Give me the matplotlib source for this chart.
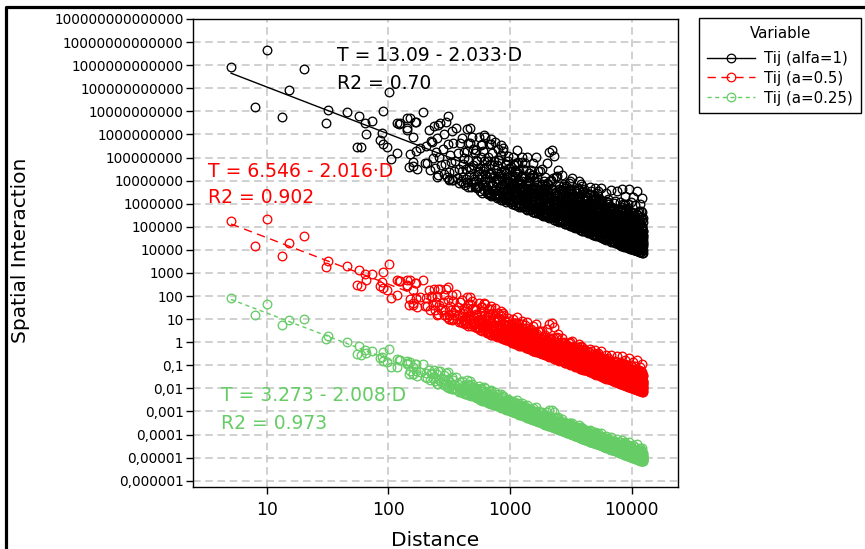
import numpy as np
import matplotlib
matplotlib.use("Agg")
import matplotlib.pyplot as plt
from matplotlib.lines import Line2D

# distance between each pair (km)
distance = [
    5.1, 10, 20.4, 15.2, 8, 13.3, 32, 31, 46, 57,
    64, 73, 101, 90, 66, 55, 60, 88, 85, 91,
    98, 117, 123, 141, 150, 170, 194, 118, 106, 151,
    124, 142, 165, 143, 159, 182, 149, 200, 251, 228,
    256, 309, 160, 168, 158, 172,
    # 200 - 520
    203, 209, 214, 219, 226, 231, 238, 241, 247, 252,
    258, 263, 267, 272, 279, 284, 288, 293, 297, 304,
    308, 313, 317, 322, 326, 333, 338, 342, 349, 355,
    361, 366, 372, 378, 383, 389, 394, 401, 407, 414,
    421, 428, 433, 440, 446, 453, 459, 466, 474, 481,
    487, 494, 499, 506, 511, 517, 318, 336, 452, 470,
    # 520 - 1000
    523, 528, 534, 539, 545, 551, 556, 562, 568, 573,
    579, 585, 590, 597, 603, 609, 614, 621, 627, 633,
    639, 646, 652, 658, 665, 671, 678, 684, 691, 698,
    704, 711, 718, 725, 732, 739, 746, 753, 760, 767,
    774, 781, 789, 796, 804, 811, 819, 827, 834, 842,
    850, 858, 866, 874, 882, 890, 899, 907, 915, 924,
    932, 941, 950, 958, 967, 976, 985, 994, 588, 655,
    701, 742, 785, 829, 872, 918, 960, 613, 694, 845,
    405, 418, 431, 447, 462, 478, 493, 509, 526, 541,
    558, 574, 592, 608, 626, 643, 661, 679, 697, 716,
    735, 754, 773, 793, 813, 834, 855, 876, 898, 920,
    943, 966, 989, 412, 538, 667, 781, 893, 455, 622,
    # 1000 - 3000
    1004, 1013, 1022, 1031, 1041, 1050, 1060, 1069, 1079, 1089,
    1099, 1109, 1119, 1130, 1140, 1151, 1161, 1172, 1183, 1194,
    1205, 1217, 1228, 1239, 1251, 1263, 1275, 1287, 1299, 1311,
    1323, 1336, 1348, 1361, 1374, 1387, 1400, 1413, 1426, 1440,
    1453, 1467, 1481, 1495, 1509, 1523, 1537, 1552, 1566, 1581,
    1596, 1611, 1626, 1641, 1657, 1672, 1688, 1704, 1720, 1736,
    1752, 1769, 1786, 1802, 1819, 1836, 1854, 1871, 1889, 1907,
    1925, 1943, 1961, 1980, 1998, 1035, 1112, 1196, 1282, 1370,
    1458, 1549, 1645, 1747, 1855, 1950, 1064, 1240, 1503, 1713,
    1150, 1330, 1420, 1590, 1780, 1900, 1260, 1480, 1680, 1870,
    1008, 1027, 1046, 1066, 1086, 1106, 1127, 1148, 1170, 1192,
    1214, 1237, 1260, 1284, 1308, 1333, 1358, 1384, 1410, 1436,
    1463, 1491, 1519, 1548, 1577, 1607, 1637, 1668, 1699, 1731,
    1764, 1797, 1831, 1865, 1900, 1936, 1972, 2009, 2047, 2086,
    2125, 2165, 2206, 2247, 2289, 2332, 2376, 2421, 2466, 2512,
    2560, 2608, 2657, 2707, 2757, 2809, 2862, 2916, 2970, 1118,
    1295, 1452, 1621, 1810, 2020, 2255, 2510, 2790, 1180, 1390,
    1560, 1745, 1950, 2180, 2430, 2700, 2950, 1075, 1665, 2345,
    2015, 2041, 2068, 2094, 2121, 2148, 2176, 2203, 2231, 2260,
    2289, 2318, 2347, 2377, 2407, 2438, 2469, 2500, 2532, 2564,
    2597, 2630, 2663, 2697, 2731, 2766, 2801, 2837, 2873, 2909,
    # 3000 - 6000
    2946, 2984, 3022, 3060, 3099, 3138, 3178, 3218, 3259, 3300,
    3342, 3385, 3428, 3471, 3515, 3560, 3605, 3651, 3697, 3744,
    3792, 3840, 3889, 3938, 3988, 4039, 4090, 4142, 4194, 4248,
    4301, 4356, 4411, 4467, 4524, 4581, 4639, 4698, 4758, 4818,
    4879, 4941, 4990, 2083, 2195, 2310, 2425, 2550, 2680, 2815,
    2960, 3110, 3270, 3430, 3600, 3780, 3960, 4150, 4350, 4560,
    4780, 4960, 2130, 2270, 2390, 2610, 2860, 3050, 3320, 3520,
    3700, 3910, 4080, 4290, 4480, 4710, 4910, 2240, 2480, 2720,
    3000, 3250, 3480, 3680, 3880, 4110, 4400, 4620, 4850, 2160,
    2360, 2590, 2780, 2990, 3190, 3400, 3620, 3850, 4060, 4260,
    4450, 4650, 4880, 2050, 2570, 3150, 3750, 4200, 4720, 4970,
    3015, 3058, 3102, 3147, 3192, 3238, 3285, 3332, 3380, 3429,
    3479, 3529, 3580, 3632, 3684, 3737, 3791, 3846, 3902, 3958,
    4015, 4073, 4132, 4192, 4252, 4314, 4376, 4439, 4503, 4568,
    4634, 4701, 4769, 4838, 4908, 4979, 5051, 5124, 5198, 5273,
    5349, 5426, 5504, 5584, 5665, 5746, 5829, 5913, 5999, 3110,
    3360, 3620, 3900, 4200, 4520, 4870, 5240, 5640, 3230, 3490,
    3760, 4050, 4360, 4690, 5050, 5430, 5850, 3070, 3310, 3570,
    3850, 4150, 4470, 4820, 5190, 5590, 5960, 3180, 3440, 3710,
    4000, 4310, 4650, 5010, 5400, 5800, 3280, 3660, 4090, 4560,
    5080, 5670, 3540, 3950, 4420, 4930, 5500, 5950, 3820, 4600,
    5030, 5085, 5140, 5196, 5252, 5309, 5366, 5424, 5482, 5541,
    5600, 5660, 5720, 5781, 5842, 5904, 5966, 6029, 6092, 6156,
    # 6000 - 12400
    6220, 6285, 6350, 6416, 6482, 6549, 6616, 6684, 6752, 6821,
    6890, 6960, 7030, 7101, 7172, 7244, 7316, 7389, 7462, 7536,
    7610, 7685, 7760, 7836, 7912, 7989, 5120, 5380, 5650, 5920,
    6200, 6480, 6770, 7060, 7350, 7650, 7940, 5260, 5530, 5810,
    6090, 6370, 6650, 6930, 7210, 7500, 7790, 5050, 5450, 5870,
    6300, 6720, 7150, 7580, 7960, 5700, 6150, 6600, 7000, 7450,
    8040, 8110, 8180, 8250, 8320, 8390, 8460, 8530, 8600, 8670,
    8740, 8810, 8880, 8950, 9020, 9090, 9160, 9230, 9300, 9370,
    9440, 9510, 9580, 9650, 9720, 9790, 9860, 9930, 10000, 10070,
    10140, 10210, 10280, 10350, 10420, 10490, 10560, 10630, 10700, 10770,
    10840, 10910, 10980, 11050, 11120, 11190, 11260, 11330, 11400, 11470,
    11540, 11610, 11680, 11750, 11820, 11890, 11960, 12030, 12100, 12170,
    12240, 12310, 12380, 8150, 8420, 8700, 8990, 9270, 9560, 9840,
    10120, 10400, 10680, 10960, 11240, 11520, 11800, 12080, 12350, 8280,
    8560, 8840, 9120, 9400, 9680, 9960, 10240, 10520, 10800, 11080,
    11360, 11640, 11920, 12200, 8060, 8480, 8920, 9340, 9760, 10180,
    10600, 11020, 11440, 11860, 12280, 8350, 8780, 9200, 9620, 10040,
    10460, 10880, 11300, 11720, 12140, 9050, 9900, 10750, 11580, 12400,
    6045, 6133, 6222, 6312, 6404, 6497, 6591, 6687, 6784, 6882,
    6982, 7083, 7186, 7290, 7396, 7503, 7612, 7722, 7834, 7948,
    8063, 8180, 8299, 8419, 8541, 8665, 8791, 8918, 9047, 9178,
    9311, 9446, 9583, 9722, 9863, 10006, 10151, 10298, 10448, 10599,
    10753, 10909, 11067, 11227, 11390, 11555, 11723, 11893, 12065, 12240,
    12320, 12390, 12150, 11980, 11810, 11650, 11480, 11310, 11150, 10990,
    10830, 10670, 10520, 10360, 10210, 10060, 9910, 9770, 9630, 9490,
    9350, 9210, 9080, 8950, 8820, 8690, 8570, 8440, 8320, 8200,
    8090, 7970, 7860, 7750, 7640, 7530, 7420, 7320, 7210, 7110,
    7010, 6910, 6810, 6710, 6620, 6520, 6430, 6340, 6250, 6160,
    12010, 11760, 11420, 11090, 10740, 10330, 9960, 9530, 9120, 8710,
    8290, 7880, 7470, 7060, 6650, 6240, 12280, 11870, 11470, 11060,
    10640, 10230, 9820, 9410, 9000, 8590, 8180, 7770, 7360, 6950,
    6540, 6130, 12100, 11600, 11100, 10600, 10100, 9600, 9100, 8600,
    # dense band, second pass
    2035, 2410, 2870, 3390, 4020, 4770, 5660, 6710, 7960, 9440,
    11200, 2110, 2505, 2975, 3530, 4185, 4965, 5890, 6990, 8290,
    9830, 11660, 2190, 2600, 3085, 3660, 4345, 5155, 6115, 7255,
    8605, 10210, 12110, 2275, 2700, 3200, 3800, 4510, 5350, 6350,
    7530, 8930, 10600, 12330, 2360, 2800, 3325, 3945, 4680, 5555,
    6590, 7820, 9270, 11000, 2450, 2910, 3450, 4095, 4860, 5765,
    6840, 8115, 9625, 11420, 2545, 3020, 3580, 4250, 5045, 5985,
    7100, 8425, 9995, 11860, 2640, 3135, 3720, 4410, 5235, 6210,
    7370, 8745, 10380, 12260, 2745, 3255, 3860, 4580, 5435, 6445,
    7650, 9080, 10770, 2850, 3380, 4005, 4755, 5640, 6690, 7940,
    9420, 11180, 2955, 3505, 4160, 4935, 5855, 6945, 8240, 9780,
    11600, 3065, 3640, 4315, 5120, 6075, 7210, 8555, 10150, 12040,
    3180, 3775, 4480, 5315, 6305, 7480, 8875, 10530, 12390, 3300,
    3915, 4645, 5515, 6545, 7765, 9210, 10930, 3425, 4065, 4825,
    5725, 6790, 8060, 9560, 11340, 3555, 4220, 5005, 5940, 7050,
    8365, 9925, 11780, 3690, 4380, 5195, 6165, 7315, 8680, 10300,
    12220, 3830, 4545, 5390, 6400, 7595, 9010, 10690, 2070, 2230,
    2390, 2560, 2745, 2940, 3150, 3375, 3615, 3875, 4150, 4445,
    4765, 5105, 5470, 5860, 6275, 6725, 7205, 7720, 8270, 8860,
    9495, 10170, 10900, 11680, 12370, 2020, 2600, 3340, 4290, 5510,
    7080, 9100, 11700, 2300, 2950, 3790, 4870, 6260, 8040, 10330,
    12300, 2480, 3190, 4100, 5270, 6770, 8700, 11180, 2660, 3420,
    4390, 5640, 7250, 9320, 11980, 2860, 3670, 4710, 6050, 7780,
    10000, 12150, 3060, 3930, 5050, 6490, 8340, 10720, 3280, 4210,
    5410, 6950, 8930, 11480, 3510, 4510, 5800, 7450, 9580, 12350,
    805, 842, 881, 921, 963, 1007, 1053, 1101, 1151, 1204,
    1259, 1317, 1377, 1440, 1506, 1575, 1647, 1722, 1801, 1883,
    1969, 830, 905, 987, 1076, 1174, 1280, 1396, 1522, 1660,
    1810, 1975, 860, 945, 1040, 1143, 1257, 1382, 1519, 1670,
    1836, 1950, 1232, 1458, 1725, 1095, 1345, 1612, 1898, 1020,
]

# log10(Oi*Dj) of each pair; Tij = (Oi*Dj)^a / d^2
log_mass = [
    13.34, 14.66, 14.45, 13.30, 11.98, 11.99, 13.07, 12.49, 13.29, 13.32,
    13.09, 13.32, 14.83, 13.94, 12.66, 11.95, 12.00, 12.96, 12.62, 12.49,
    12.45, 13.65, 13.63, 13.56, 14.05, 14.01, 14.54, 12.35, 11.97, 12.50,
    13.68, 14.02, 13.98, 13.50, 13.29, 12.93, 11.94, 12.36, 11.95, 13.39,
    14.23, 14.78, 12.20, 12.75, 12.04, 11.99,
    # 200 - 520
    13.10, 12.42, 13.86, 12.15, 13.44, 12.71, 14.12, 12.30, 13.02, 13.65,
    12.08, 12.88, 14.35, 12.55, 13.27, 12.19, 13.92, 12.64, 14.48, 12.11,
    13.58, 12.36, 12.05, 13.14, 12.82, 14.21, 12.10, 13.71, 12.49, 12.97,
    14.40, 12.26, 13.35, 12.04, 12.68, 13.83, 12.17, 14.05, 12.93, 12.40,
    13.49, 12.06, 12.77, 14.52, 12.22, 13.21, 12.58, 13.96, 12.09, 12.85,
    14.28, 12.33, 13.08, 12.61, 13.62, 12.14, 12.02, 12.07, 12.03, 14.64,
    # 520 - 1000
    12.44, 13.77, 12.12, 13.30, 12.89, 14.36, 12.24, 13.05, 12.06, 13.55,
    12.70, 14.10, 12.38, 12.97, 13.84, 12.16, 13.42, 12.57, 14.47, 12.31,
    13.18, 12.08, 12.80, 13.66, 12.46, 14.22, 12.19, 13.37, 12.63, 13.01,
    12.05, 13.90, 12.52, 12.27, 13.59, 12.93, 14.41, 12.13, 13.24, 12.74,
    12.36, 13.48, 12.09, 14.15, 12.86, 12.21, 13.71, 12.55, 13.12, 12.03,
    13.95, 12.42, 12.98, 12.14, 14.30, 12.67, 13.36, 12.29, 12.81, 13.63,
    12.10, 13.09, 12.48, 14.02, 12.25, 12.90, 13.52, 12.07, 12.01, 12.04,
    12.02, 12.11, 12.04, 12.17, 12.06, 12.02, 12.12, 14.55, 14.49, 14.38,
    12.63, 13.21, 12.35, 13.58, 12.91, 12.28, 13.76, 12.47, 13.34, 12.18,
    12.79, 14.05, 12.41, 13.12, 12.66, 13.47, 12.23, 12.95, 14.27, 12.52,
    13.39, 12.15, 12.84, 13.67, 12.38, 13.03, 12.70, 14.15, 12.26, 13.25,
    12.60, 13.81, 12.33, 12.14, 12.21, 12.09, 12.26, 12.18, 13.95, 12.88,
    # 1000 - 3000
    12.33, 13.61, 12.07, 12.89, 13.28, 12.15, 14.08, 12.52, 12.98, 13.44,
    12.04, 12.71, 13.86, 12.26, 14.42, 12.61, 13.15, 12.09, 13.57, 12.40,
    12.83, 12.18, 13.33, 12.05, 14.20, 12.47, 12.95, 13.70, 12.12, 12.66,
    13.99, 12.30, 12.03, 13.22, 12.57, 14.31, 12.21, 13.05, 12.78, 12.08,
    13.48, 12.36, 13.82, 12.14, 12.93, 12.50, 14.12, 12.02, 13.38, 12.69,
    12.24, 13.15, 12.85, 14.44, 12.11, 13.60, 12.42, 12.06, 13.01, 12.73,
    13.91, 12.19, 12.60, 13.29, 12.04, 14.05, 12.35, 12.88, 13.53, 12.13,
    12.47, 13.74, 12.09, 12.97, 14.36, 12.01, 12.03, 12.02, 12.06, 12.01,
    12.05, 12.03, 12.01, 12.04, 12.02, 12.05, 12.58, 12.76, 12.31, 12.44,
    13.10, 12.92, 13.64, 12.20, 12.55, 13.20, 14.00, 12.62, 12.28, 12.16,
    12.72, 12.21, 13.18, 12.44, 12.90, 13.53, 12.27, 12.62, 13.95, 12.17,
    13.07, 12.55, 12.36, 13.41, 12.10, 12.86, 13.74, 12.49, 12.98, 12.24,
    13.26, 12.68, 12.13, 13.62, 12.40, 12.81, 13.12, 12.29, 13.88, 12.57,
    12.09, 12.94, 13.36, 12.45, 12.70, 13.05, 12.20, 13.49, 12.61, 12.32,
    12.85, 13.70, 12.15, 12.52, 13.19, 12.38, 12.76, 13.97, 12.26, 13.02,
    12.47, 12.11, 13.31, 12.64, 12.89, 13.56, 12.34, 12.73, 12.19, 12.46,
    13.33, 12.84, 12.53, 13.13, 12.96, 12.63, 13.44, 12.58, 12.11, 12.27,
    12.18, 12.39, 12.14, 12.23, 12.30, 12.12, 12.41, 13.80, 12.99, 12.71,
    12.22, 13.47, 12.05, 14.88, 12.74, 13.12, 12.38, 15.02, 12.10, 13.80,
    12.59, 14.79, 12.16, 13.27, 12.90, 12.03, 14.25, 12.47, 13.58, 12.31,
    12.08, 13.05, 12.68, 14.09, 12.19, 12.84, 13.40, 12.02, 12.53, 13.71,
    # 3000 - 6000
    12.27, 12.99, 12.11, 13.88, 12.44, 12.06, 13.22, 12.65, 14.15, 12.14,
    13.33, 12.37, 12.04, 12.79, 13.62, 12.21, 12.95, 12.09, 14.12, 12.50,
    12.70, 13.16, 12.01, 13.95, 12.33, 12.58, 13.45, 12.07, 12.88, 12.24,
    13.73, 12.12, 13.02, 12.42, 14.05, 12.05, 12.63, 13.29, 12.18, 12.93,
    12.03, 13.56, 12.36, 12.02, 12.06, 12.01, 12.04, 12.03, 12.07, 12.02,
    12.05, 12.01, 12.04, 12.02, 12.06, 12.03, 12.01, 12.05, 12.02, 12.04,
    12.01, 12.06, 13.62, 12.85, 13.91, 12.40, 12.72, 13.38, 12.55, 12.29,
    13.21, 12.14, 12.91, 13.54, 12.26, 13.10, 12.47, 12.18, 12.92, 13.15,
    12.34, 13.49, 12.83, 12.12, 13.68, 12.20, 12.74, 13.86, 12.61, 12.45,
    13.35, 12.10, 13.76, 12.50, 12.19, 13.06, 12.43, 12.66, 12.29, 13.12,
    12.52, 12.09, 13.25, 12.87, 12.67, 12.79, 12.35, 13.40, 12.48, 14.08,
    12.58, 13.28, 12.19, 12.87, 13.64, 12.42, 12.98, 12.13, 13.37, 12.71,
    12.29, 13.02, 12.55, 13.81, 12.20, 12.83, 13.49, 12.38, 12.66, 13.15,
    12.15, 12.92, 13.59, 12.47, 12.76, 13.24, 12.26, 13.70, 12.60, 12.35,
    12.97, 12.12, 13.40, 12.68, 12.44, 13.09, 12.22, 12.85, 13.88, 12.53,
    12.31, 13.17, 12.74, 12.18, 13.52, 12.61, 12.94, 12.39, 13.31, 13.96,
    12.09, 12.45, 12.17, 12.28, 12.10, 12.36, 12.16, 12.23, 12.81, 13.55,
    12.90, 13.36, 12.57, 12.99, 13.63, 12.70, 12.50, 12.40, 12.64, 12.21,
    12.37, 12.69, 13.14, 12.32, 12.79, 13.27, 12.86, 13.19, 12.96, 13.72,
    13.06, 12.51, 12.25, 13.44, 12.14, 12.43, 12.30, 13.00, 12.20, 12.62,
    12.73, 13.09, 12.86, 12.48, 12.91, 12.27, 12.35, 12.77, 14.02, 13.33,
    12.31, 13.44, 12.07, 12.86, 13.97, 12.19, 12.62, 13.21, 12.04, 14.18,
    12.48, 12.95, 13.63, 12.13, 12.74, 13.36, 12.02, 12.57, 14.05, 12.25,
    # 6000 - 12400
    13.11, 12.40, 13.82, 12.08, 12.89, 12.33, 13.52, 12.16, 12.70, 14.26,
    12.05, 13.29, 12.60, 12.21, 13.74, 12.44, 12.97, 12.10, 13.40, 12.79,
    14.33, 12.27, 13.06, 12.53, 12.03, 13.88, 12.01, 12.04, 12.02, 12.05,
    12.01, 12.03, 12.02, 12.06, 12.01, 12.04, 12.02, 12.55, 13.18, 12.37,
    12.83, 13.60, 12.14, 12.91, 12.47, 13.25, 12.66, 13.70, 12.22, 13.05,
    12.30, 12.99, 13.48, 12.18, 12.58, 12.76, 12.11, 12.43, 13.14, 12.88,
    12.42, 13.55, 12.09, 12.87, 14.49, 12.23, 13.16, 12.64, 12.03, 13.81,
    12.35, 12.98, 14.21, 12.14, 12.72, 13.37, 12.06, 12.51, 13.92, 12.27,
    13.08, 12.45, 14.58, 12.02, 12.80, 13.48, 12.18, 12.93, 12.39, 13.66,
    12.11, 14.30, 12.60, 13.23, 12.04, 12.76, 13.99, 12.30, 12.89, 12.15,
    13.44, 12.53, 14.62, 12.07, 13.01, 12.68, 12.21, 13.74, 12.47, 12.96,
    12.13, 14.12, 12.36, 13.29, 12.84, 12.05, 13.58, 12.57, 14.40, 12.24,
    13.12, 12.71, 12.18, 12.01, 12.03, 12.02, 12.05, 12.01, 12.04, 12.02,
    12.03, 12.01, 12.05, 12.02, 12.04, 12.01, 12.03, 12.02, 12.06, 13.27,
    12.61, 13.90, 12.29, 13.15, 12.70, 14.05, 12.46, 13.52, 12.82, 12.25,
    13.35, 12.62, 12.94, 13.06, 12.85, 12.19, 13.63, 12.77, 12.37, 12.90,
    13.20, 12.40, 12.10, 13.84, 12.55, 12.66, 12.43, 12.88, 13.41, 12.58,
    12.32, 13.10, 12.74, 12.48, 12.87, 13.70, 12.99, 12.17, 13.46, 12.50,
    12.46, 13.22, 12.15, 12.81, 13.67, 12.33, 12.98, 12.58, 13.41, 12.20,
    12.72, 13.05, 12.41, 13.83, 12.27, 12.90, 12.52, 13.30, 12.13, 12.66,
    13.14, 12.37, 12.84, 13.58, 12.19, 12.70, 13.37, 12.48, 12.95, 12.26,
    13.75, 12.56, 12.12, 13.03, 12.78, 12.40, 13.47, 12.23, 12.87, 13.20,
    12.34, 12.61, 13.62, 12.16, 12.97, 12.45, 13.28, 12.74, 12.29, 13.51,
    12.42, 12.83, 13.79, 12.60, 13.42, 12.32, 12.21, 13.11, 12.88, 12.19,
    12.67, 13.33, 12.50, 12.99, 12.27, 13.61, 12.44, 12.81, 13.18, 12.35,
    12.53, 12.14, 13.46, 12.76, 12.38, 13.00, 12.62, 13.86, 12.31, 12.92,
    12.24, 12.58, 13.34, 12.47, 12.84, 12.16, 13.09, 12.69, 12.28, 13.53,
    12.89, 12.37, 13.24, 12.55, 12.11, 12.94, 12.46, 13.40, 12.73, 12.18,
    12.56, 12.93, 12.36, 12.71, 13.07, 12.49, 12.82, 12.25, 12.64, 13.26,
    12.41, 12.79, 12.22, 12.60, 13.13, 12.88, 12.34, 12.17, 12.91, 13.59,
    12.73, 12.20, 13.04, 12.52, 12.86, 12.28, 12.68, 13.32, 12.43, 12.77,
    12.51, 12.62, 13.19, 12.44, 12.57, 12.85, 12.63, 12.39, 12.30, 12.96,
    # dense band, second pass
    12.52, 13.18, 12.74, 13.41, 12.37, 12.95, 13.63, 12.48, 13.07, 12.83,
    13.29, 12.67, 12.31, 13.55, 12.89, 13.14, 12.58, 13.33, 12.92, 13.71,
    12.61, 12.44, 13.02, 12.87, 12.26, 13.27, 12.71, 13.48, 12.39, 13.16,
    12.97, 13.38, 12.75, 12.40, 13.65, 12.56, 12.91, 12.33, 13.59, 12.80,
    13.44, 12.69, 12.55, 13.02, 13.23, 12.47, 13.11, 12.63, 13.49, 12.95,
    12.42, 13.21, 13.67, 12.88, 12.35, 13.04, 12.72, 13.57, 12.29, 13.36,
    12.84, 12.59, 13.12, 13.78, 12.60, 13.30, 12.50, 12.86, 13.16, 12.68,
    13.43, 13.05, 12.46, 12.70, 12.98, 12.43, 13.39, 12.78, 12.54, 13.58,
    12.62, 12.93, 13.31, 12.36, 13.46, 12.82, 12.34, 13.19, 13.62, 12.74,
    13.08, 12.51, 12.99, 12.57, 13.08, 13.75, 12.45, 12.90, 13.26, 12.38,
    13.52, 12.77, 12.89, 12.53, 13.35, 12.70, 13.09, 12.57, 12.79, 13.14,
    12.48, 13.60, 12.65, 12.96, 12.50, 13.42, 12.88, 13.31, 12.67, 13.01,
    12.80, 13.24, 12.44, 13.70, 13.06, 12.62, 12.52, 12.94, 13.55, 13.37,
    12.58, 12.90, 13.28, 12.75, 12.99, 13.46, 12.35, 12.73, 13.86, 13.10,
    12.46, 13.17, 12.83, 12.59, 12.82, 12.49, 12.62, 13.32, 12.92, 12.55,
    13.62, 12.71, 13.25, 13.00, 12.38, 12.79, 13.71, 13.13, 12.44, 13.06,
    12.89, 12.76, 13.15, 12.58, 12.95, 12.40, 13.39, 12.60, 12.90, 13.35,
    12.56, 12.81, 13.04, 12.41, 13.56, 12.68, 12.84, 12.46, 13.09, 12.60,
    12.97, 12.32, 12.86, 13.03, 12.54, 13.49, 12.70, 12.97, 13.18, 12.76,
    12.91, 13.29, 12.45, 12.85, 13.40, 13.25, 13.42, 13.65, 12.92, 13.54,
    12.65, 12.87, 12.67, 12.73, 12.61, 12.54, 13.77, 12.34, 12.83, 13.51,
    12.98, 13.12, 12.99, 12.66, 12.88, 13.10, 12.65, 12.93, 12.67, 12.47,
    13.03, 13.26, 12.81, 13.33, 12.59, 12.72, 13.20, 12.85, 12.63, 12.74,
    12.86, 13.16, 12.95, 12.64, 13.23, 12.56, 13.00, 12.75, 12.61, 12.78,
    12.69, 12.94, 13.12, 12.52, 13.29, 12.83, 12.91, 13.34, 13.02, 12.80,
    12.84, 13.22, 12.52, 13.61, 12.93, 12.40, 13.08, 12.76, 13.42, 12.58,
    13.17, 12.69, 12.47, 13.29, 12.88, 13.55, 12.61, 13.04, 12.36, 12.92,
    13.35, 12.56, 13.31, 12.78, 13.75, 12.83, 12.54, 13.19, 13.60, 12.81,
    13.10, 12.64, 12.99, 12.45, 12.62, 13.48, 12.90, 12.71, 12.95, 13.39,
    12.50, 13.20, 13.05, 12.88, 12.74, 13.28, 12.63, 13.01, 12.80, 12.70,
]

alphas = [1.0, 0.5, 0.25]
series_names = ["Tij (alfa=1)", "Tij (a=0.5)", "Tij (a=0.25)"]
colors = ["black", "#ff0000", "#66cc66"]
line_styles = ["-", (0, (6, 4)), (0, (3, 2.5))]
fit_intercept = [13.09, 6.546, 3.273]
fit_slope = [2.033, 2.016, 2.008]
fit_r2 = ["0.70", "0.902", "0.973"]

x_ticks = [10, 100, 1000, 10000]
x_tick_labels = ["10", "100", "1000", "10000"]
y_ticks = [10.0 ** k for k in range(-6, 15)]
y_tick_labels = ["0,000001", "0,00001", "0,0001", "0,001", "0,01", "0,1",
                 "1", "10", "100", "1000", "10000", "100000", "1000000",
                 "10000000", "100000000", "1000000000", "10000000000",
                 "100000000000", "1000000000000", "10000000000000",
                 "100000000000000"]

assert len(distance) == len(log_mass)
d = np.array(distance, dtype=float)
lm = np.array(log_mass)

W, H = 865, 549
fig = plt.figure(figsize=(W / 100, H / 100), dpi=100)
ax = fig.add_axes([193.3 / W, (H - 487) / H, 484.4 / W, 468 / H])

for a, c in zip(alphas, colors):
    tij = 10 ** (a * lm) / d ** 2
    ax.plot(d, tij, ls="none", marker="o", ms=6.2, mfc="none", mec=c, mew=0.95, zorder=3)

d_fit = np.array([min(distance), max(distance)])
for a0, b, c, ls in zip(fit_intercept, fit_slope, colors, line_styles):
    ax.plot(d_fit, 10 ** (a0 - b * np.log10(d_fit)), color=c, ls=ls, lw=1, zorder=2)

ax.set_xscale("log")
ax.set_yscale("log")
ax.set_xlim(10 ** 0.397, 10 ** 4.378)
ax.set_ylim(10 ** -6.273, 1e14)
ax.set_xticks(x_ticks)
ax.set_xticklabels(x_tick_labels, fontsize=12.3)
ax.set_yticks(y_ticks)
ax.set_yticklabels(y_tick_labels, fontsize=9.8)
ax.minorticks_off()
ax.tick_params(axis="y", length=5, width=1, pad=2, direction="out")
ax.tick_params(axis="x", length=5, width=1, pad=5, direction="out")
ax.grid(True, color="#c4c4c4", ls=(0, (5, 3)), lw=1.1, zorder=0)
ax.set_axisbelow(True)
for s in ax.spines.values():
    s.set_linewidth(1)

# equations of the fitted lines
text_pos = [(336.7, 61, 89), (208.3, 176.7, 203.3), (220.7, 401, 429)]
for (tx, ty1, ty2), a0, b, r2, c in zip(text_pos, fit_intercept, fit_slope, fit_r2, colors):
    fig.text(tx / W, 1 - ty1 / H, f"T = {a0:g} - {b:.3f}\u00b7D", color=c,
             fontsize=13.5, va="baseline", ha="left")
    fig.text(tx / W, 1 - ty2 / H, f"R2 = {r2}", color=c,
             fontsize=13.5, va="baseline", ha="left")

fig.text(435.5 / W, 1 - 546 / H, "Distance", fontsize=14.5, ha="center", va="baseline")
fig.text(11 / W, 1 - 250 / H, "Spatial Interaction", fontsize=14.5, rotation=90,
         ha="left", va="center")

handles = [Line2D([], [], color=c, ls=ls, lw=1, marker="o", ms=6.2, mfc="none", mec=c, mew=0.9)
           for c, ls in zip(colors, line_styles)]
leg = fig.legend(handles, series_names, title="Variable", fontsize=10.8, title_fontsize=10.8,
                 loc="upper left", bbox_to_anchor=(699 / W, 1 - 115 / H, 162 / W, 97 / H),
                 mode="expand", borderaxespad=0, fancybox=False, edgecolor="black",
                 framealpha=1, handlelength=3.2, handletextpad=0.6, labelspacing=0.32,
                 borderpad=0.5)
leg._legend_box.sep = 7.5  # a bit more room under the title
leg.get_frame().set_linewidth(1)

# outer frame (left and top edges)
fig.add_artist(Line2D([5.5 / W, 5.5 / W, 1], [0, 1 - 6.5 / H, 1 - 6.5 / H],
                      transform=fig.transFigure, color="black", lw=2.3))

fig.savefig("out.png", dpi=100)
